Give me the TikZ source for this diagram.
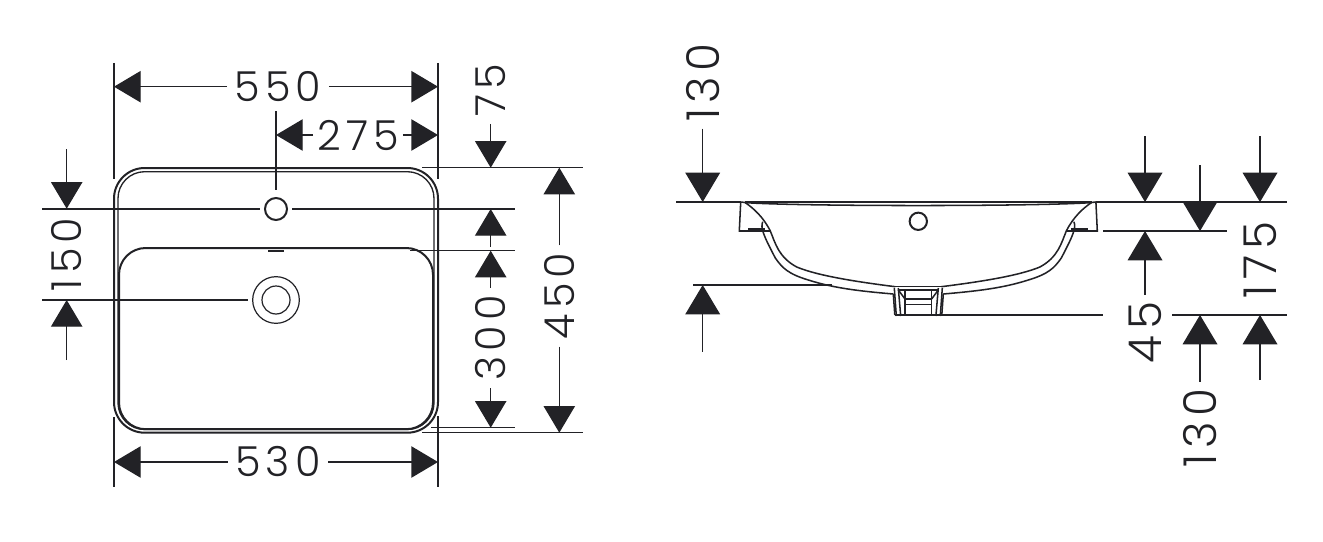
\documentclass[tikz,border=0pt]{standalone}
\usepackage{fontspec}
\usetikzlibrary{arrows.meta}
\setmainfont{Poppins Light}[LetterSpace=12]

\newcommand{\wideone}{1\kern4pt}
\definecolor{inkdark}{HTML}{222226}
\tikzset{
    dimline/.style={line width=1pt, color=inkdark},
    dimarrow/.style={dimline, -{Triangle[length=20pt,width=23.5pt]}},
    bigarrow/.style={dimline, -{Triangle[length=22pt,width=26pt]}},
    dimtext/.style={font=\fontsize{31}{31}\selectfont, text=inkdark, inner sep=5.5pt},
    bigtext/.style={font=\fontsize{34}{34}\selectfont, text=inkdark, inner sep=5pt},
    basinline/.style={line width=1.5pt, color=inkdark},
    sideline/.style={line width=1.15pt, color=inkdark},
}

\begin{document}
\begin{tikzpicture}[x=0.75pt,y=0.75pt,yscale=-1,xscale=1]
    \useasboundingbox (0,0) rectangle (1323,542);

    %Shape: Outer rim [id:top_outer]
    \draw [basinline, rounded corners=23pt] (114,168) rectangle (438,432.7);
    %Shape: Second rim [id:top_inner]
    \draw [dimline, rounded corners=20pt] (118,171.7) rectangle (434,429.5);
    %Shape: Bowl [id:top_bowl]
    \draw [basinline, rounded corners=20pt] (119,248) rectangle (433,429.2);
    %Shape: Circle [id:top_hole]
    \node (hole) [circle, draw=inkdark, line width=1.5pt, minimum size=16.5pt, inner sep=0pt] at (276,209) {};
    %Shape: Circle [id:top_drain]
    \node (drain) [circle, draw=inkdark, line width=0.9pt, minimum size=35pt, inner sep=0pt] at (276,300) {};
    \node (drainin) [circle, draw=inkdark, line width=0.9pt, minimum size=21pt, inner sep=0pt] at (276,300) {};
    %Shape: Overflow mark [id:top_mark]
    \draw [line width=1.8pt, color=inkdark] (268,251) -- (284,251);

    %Extension Lines
    \coordinate (l1) at (114,63);
    \coordinate (l2) at (114,179);
    \coordinate (l3) at (114,417);
    \coordinate (l4) at (114,487);
    \coordinate (r1) at (438,63);
    \coordinate (r2) at (438,179);
    \coordinate (r3) at (438,416);
    \coordinate (r4) at (438,487);
    \coordinate (m1) at (276,111);
    \coordinate (m2) at (276,190);
    \draw [dimline] (l1) -- (l2);
    \draw [dimline] (l3) -- (l4);
    \draw [dimline] (r1) -- (r2);
    \draw [dimline] (r3) -- (r4);
    \draw [dimline] (m1) -- (m2);
    \coordinate (hl1) at (42,209);
    \coordinate (hr1) at (515,209);
    \coordinate (hl2) at (42,300);
    \coordinate (hr2) at (515,250.7);
    \coordinate (hr3) at (410,250.7);
    \coordinate (hr4) at (431,427.7);
    \coordinate (hr5) at (515,427.7);
    \coordinate (hr6) at (422,167.7);
    \coordinate (hr7) at (583,167.7);
    \coordinate (hr8) at (422,432.7);
    \coordinate (hr9) at (583,432.7);
    \draw [dimline] (hl1) -- (260,209);
    \draw [dimline] (292,209) -- (hr1);
    \draw [dimline] (hl2) -- (248,300);
    \draw [dimline] (hr3) -- (hr2);
    \draw [dimline] (hr4) -- (hr5);
    \draw [dimline] (hr6) -- (hr7);
    \draw [dimline] (hr8) -- (hr9);

    % Text Node
    \node (w550) [dimtext] at (278,86.7) {550};
    \node (w275) [dimtext, inner sep=3pt] at (358,135) {275};
    \node (w530) [dimtext] at (278,462) {530};
    \node (h75) [dimtext, rotate=90] at (490.7,90) {75};
    \node (h300) [dimtext, rotate=90] at (490.7,338) {300};
    \node (h450) [dimtext, rotate=90] at (559.3,296) {450};
    \node (h150) [dimtext, rotate=90] at (66.7,254.5) {\wideone 50};

    %Straight Lines
    \coordinate (a550l) at (114,86.7);
    \coordinate (a550r) at (438,86.7);
    \coordinate (a275l) at (276,135);
    \coordinate (a275r) at (438,135);
    \coordinate (a530l) at (114,462);
    \coordinate (a530r) at (438,462);
    \draw [dimarrow] (w550) -- (a550l);
    \draw [dimarrow] (w550) -- (a550r);
    \draw [dimarrow] (w275) -- (a275l);
    \draw [dimarrow] (w275) -- (a275r);
    \draw [dimarrow] (w530) -- (a530l);
    \draw [dimarrow] (w530) -- (a530r);
    \coordinate (a75) at (490.7,167.7);
    \coordinate (a300t) at (490.7,250.7);
    \coordinate (a300b) at (490.7,427.7);
    \coordinate (s75) at (490.7,209);
    \coordinate (s75e) at (490.7,246.7);
    \draw [dimarrow] (h75) -- (a75);
    \draw [dimarrow] (h300) -- (a300t);
    \draw [dimarrow] (h300) -- (a300b);
    \draw [dimarrow] (s75e) -- (s75);
    \coordinate (a450t) at (559.3,167.7);
    \coordinate (a450b) at (559.3,432.7);
    \draw [dimarrow] (h450) -- (a450t);
    \draw [dimarrow] (h450) -- (a450b);
    \coordinate (s150t) at (66.7,149);
    \coordinate (a150t) at (66.7,208.7);
    \coordinate (s150b) at (66.7,360);
    \coordinate (a150b) at (66.7,300);
    \draw [dimarrow] (s150t) -- (a150t);
    \draw [dimarrow] (s150b) -- (a150b);

    %Shape: Side section, both halves [id:side_bowl]
    \foreach \side in {1,-1}{
    \begin{scope}[shift={(918.3,0)},xscale=\side]
        \draw [sideline] (-173,202.5) -- (-177.6,202) -- (-179,231) -- (-148,231);
        \draw [line width=1.8pt, color=inkdark] (-170,229.5) -- (-153,229.5);
        \draw [sideline] (-173.3,202.5) .. controls (-165,208) and (-155,217) .. (-148,231) .. controls (-143,243) and (-140,257) .. (-121.6,267) .. controls (-100,276) and (-60,282) .. (-23,286.7);
        \draw [sideline] (-155.6,221.7) .. controls (-158,228) and (-155,235) .. (-143,258) .. controls (-136,268) and (-130,274) .. (-110,280) .. controls (-85,288) and (-60,291) .. (-25,294);
        \draw [sideline] (-25,294) -- (-23.5,315);
        \draw [sideline] (-20,288) -- (-17.6,316);
        \draw [sideline] (-24,288) -- (-22,316);
        \draw [sideline] (-20,290) -- (-13.3,299);
        \draw [sideline] (-13.3,290) -- (-13.3,315);
    \end{scope}
    }
    %Shape: Rim top and plug [id:side_rim]
    \draw [line width=1.5pt, color=inkdark] (745,202.3) -- (1091.6,202.3);
    \draw [sideline] (745,202.6) .. controls (800,206.5) and (1036,206.5) .. (1091.6,202.6);
    \draw [sideline] (895,286.7) -- (941.6,286.7);
    \draw [sideline] (898,290) -- (938.6,290);
    \draw [sideline] (905,299) -- (931.6,299);
    \draw [sideline] (905,304.3) -- (931.6,304.3);
    %Shape: Circle [id:side_hole]
    \node (sidehole) [circle, draw=inkdark, line width=1.5pt, minimum size=13pt, inner sep=0pt] at (918.3,221.3) {};

    %Extension Lines
    \coordinate (t1) at (676,202);
    \coordinate (t2) at (741,202);
    \coordinate (t3) at (1096,202);
    \coordinate (t4) at (1287,202);
    \coordinate (c1) at (1103,231);
    \coordinate (c2) at (1227,231);
    \coordinate (b1) at (693,285);
    \coordinate (b2) at (832,285);
    \coordinate (d1) at (895,315);
    \coordinate (d2) at (1103,315);
    \coordinate (d3) at (1172,315);
    \coordinate (d4) at (1287,315);
    \draw [dimline] (t1) -- (t2);
    \draw [dimline] (t3) -- (t4);
    \draw [dimline] (c1) -- (c2);
    \draw [dimline] (b1) -- (b2);
    \draw [dimline] (d1) -- (d2);
    \draw [dimline] (d3) -- (d4);

    % Text Node
    \node (v130a) [bigtext, rotate=90] at (702.7,82.5) {\wideone 30};
    \node (v45) [bigtext, rotate=90] at (1145,332.5) {45};
    \node (v130b) [bigtext, rotate=90] at (1200,428) {\wideone 30};
    \node (v175) [bigtext, rotate=90] at (1260,260) {\wideone 75};

    %Straight Lines
    \coordinate (p1) at (702.7,202);
    \coordinate (p2) at (702.7,285);
    \coordinate (p3) at (702.7,351.7);
    \draw [bigarrow] (v130a) -- (p1);
    \draw [bigarrow] (p3) -- (p2);
    \coordinate (q1) at (1145,136);
    \coordinate (q2) at (1145,202);
    \coordinate (q3) at (1145,231);
    \draw [bigarrow] (q1) -- (q2);
    \draw [bigarrow] (v45) -- (q3);
    \coordinate (u1) at (1200,165);
    \coordinate (u2) at (1200,231);
    \coordinate (u3) at (1200,315);
    \draw [bigarrow] (u1) -- (u2);
    \draw [bigarrow] (v130b) -- (u3);
    \coordinate (w1) at (1260,136);
    \coordinate (w2) at (1260,202);
    \coordinate (w3) at (1260,315);
    \coordinate (w4) at (1260,380);
    \draw [bigarrow] (w1) -- (w2);
    \draw [bigarrow] (w4) -- (w3);

\end{tikzpicture}
\end{document}
